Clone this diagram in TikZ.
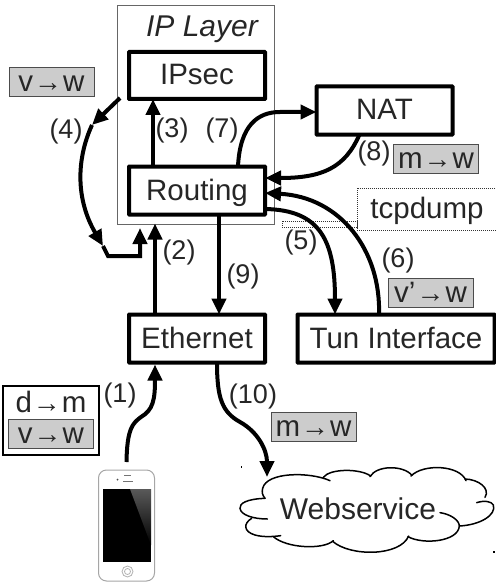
\documentclass[tikz,border=0pt]{standalone}
\usepackage{fontspec}
\setmainfont{Liberation Sans}
\usetikzlibrary{arrows.meta,calc}
\definecolor{ink}{gray}{0.15}
\definecolor{tag}{gray}{0.8}
\newcommand{\arrw}{\hspace{1pt}{\fontsize{28}{28}\selectfont →}\hspace{1pt}}
\tikzset{
  x=1pt,y=-1pt,
  every node/.style={inner sep=0pt,outer sep=0pt,text=ink},
  big/.style={font=\fontsize{29.5}{32}\selectfont,text height=23pt,text depth=4pt},
  box/.style={big,draw=black,line width=4pt,rounded corners=0.5pt},
  num/.style={font=\fontsize{27}{30}\selectfont},
  tagbox/.style={big,draw=black!70,line width=1pt,fill=tag,minimum width=85pt,minimum height=29pt},
  flow/.style={line width=4pt,draw=black,-{Triangle[length=16pt,width=14pt]}},
  cloudline/.style={line width=1.5pt,draw=black,line cap=round},
}
\begin{document}
\begin{tikzpicture}
\useasboundingbox (0,0) rectangle (495,583);
% IP layer
\node (iplayer) [draw=black!60,line width=1pt,minimum width=157pt,minimum height=218pt] at (195.5,115) {};
\node (iptitle) [big,font=\fontsize{30}{32}\selectfont\itshape] at (202,27) {IP Layer};
% boxes
\node (ipsec) [box,minimum width=136pt,minimum height=47pt] at (197,75.5) {IPsec};
\node (routing) [box,minimum width=136pt,minimum height=48pt] at (197,190.5) {Routing};
\node (nat) [box,minimum width=136pt,minimum height=48pt] at (384.5,110.5) {NAT};
\node (tun) [box,minimum width=197pt,minimum height=48pt] at (396,338.5) {Tun Interface};
\node (eth) [box,minimum width=136pt,minimum height=48pt] at (197,338.5) {Ethernet};
% tcpdump
\node (tcpdump) [big,draw=black!80,densely dotted,line width=1pt,minimum width=142pt,minimum height=42pt,anchor=west] at (357,209) {\hspace{-2pt}tcpdump};
\node (tcpstub) [draw=black!80,densely dotted,line width=1pt,minimum width=75pt,minimum height=6pt] at (319.5,224) {};
% tags
\node (tagA) [tagbox] at (51.5,82.5) {v\arrw w};
\node (tagB) [tagbox] at (436,158.5) {m\arrw w};
\node (tagC) [tagbox] at (430.5,292.5) {v'\arrw w};
\node (tagD) [tagbox] at (313.5,427) {m\arrw w};
\node (packet) [draw=black,line width=1.5pt,minimum width=96pt,minimum height=69pt] at (51,420.5) {};
\node (packetA) [big] at (51,403) {d\arrw m};
\node (packetB) [tagbox] at (51,434) {v\arrw w};
% phone
\node (phone) [draw=black!35,line width=1pt,fill=white,rounded corners=8pt,minimum width=56pt,minimum height=111pt] at (126.5,525.5) {};
\fill[black] (102.5,489) rectangle (151,561.5);
\shade[top color=black!65,bottom color=black] (130,489) -- (151,489) -- (151,545) -- cycle;
\draw[black!55,line width=1pt] (123,481) -- (133,481) (124,475.5) -- (131,475.5);
\fill[black!70] (117.5,479.5) circle (1pt);
\draw[black!30,line width=0.8pt] (127.5,571.5) circle (5.5pt) (127.5,571.5) circle (3pt);
% cloud
\node (web) [big,font=\fontsize{30}{32}\selectfont] at (358,510) {Webservice};
\begin{scope}[shift={(210pt,-350pt)},x=0.33333pt,y=-0.33333pt]
\draw[cloudline] (360,392) .. controls (300,365) and (170,365) .. (158,415) .. controls (155,427) and (157,435) .. (165,445);
\draw[cloudline] (165,445) .. controls (110,447) and (88,460) .. (90,475) .. controls (92,495) and (130,507) .. (172,507);
\draw[cloudline] (125,505) .. controls (100,520) and (100,545) .. (135,555) .. controls (160,562) and (190,560) .. (212,557);
\draw[cloudline] (190,560) .. controls (230,595) and (340,600) .. (370,572);
\draw[cloudline] (368,574) .. controls (420,620) and (570,620) .. (596,558);
\draw[cloudline] (594,560) .. controls (640,585) and (745,575) .. (748,528) .. controls (748,510) and (720,492) .. (690,488);
\draw[cloudline] (748,528) .. controls (810,525) and (860,495) .. (850,465) .. controls (845,455) and (825,450) .. (800,458);
\draw[cloudline] (825,442) .. controls (842,415) and (805,388) .. (765,387);
\draw[cloudline] (768,392) .. controls (750,345) and (640,340) .. (603,378);
\draw[cloudline] (606,376) .. controls (580,345) and (500,345) .. (480,380);
\draw[cloudline] (482,378) .. controls (450,355) and (360,355) .. (340,382);
\fill[black] (92,349) rectangle (97,355);
\fill[black] (849,604) rectangle (855,610);
\end{scope}
% free ends
\coordinate (fourstart) at (120,98);
\coordinate (fourmid) at (92,125);
\coordinate (fourlow) at (103,246);
\coordinate (fourend) at (140,228);
% connectors
\draw[flow] ([xshift=-44pt]routing.north) -- ([xshift=-44pt]ipsec.south);
\draw[flow] ([xshift=-42pt]eth.north) -- ([xshift=-42pt,yshift=-9pt]routing.south);
\draw[flow] ([xshift=22pt]routing.south) -- ([xshift=22pt]eth.north);
\draw[flow] (fourstart) -- (fourmid);
\draw[flow] (fourmid) .. controls (76,160) and (76,200) .. (fourlow);
\draw[flow] (fourlow) -- (108,256) -- (140,256) -- (fourend);
\draw[flow] ([xshift=41pt]routing.north) .. controls (240,125) and (258,112) .. (280,112) -- ([yshift=-1.5pt]nat.west);
\draw[flow] ([xshift=-25pt]nat.south) .. controls (345,168) and (322,178) .. ([yshift=12.5pt]routing.east);
\draw[flow] ([xshift=-17pt]tun.north) .. controls (381,250) and (340,197) .. ([yshift=-2.5pt]routing.east);
\draw[flow] ([yshift=-18.5pt]routing.east) .. controls (320,210) and (335,240) .. ([xshift=-61pt]tun.north);
\draw[flow] ([yshift=8pt]phone.north) .. controls (127,428) and (133,423) .. (141,417) .. controls (153,410) and (155,400) .. ([xshift=-42pt,yshift=-2pt]eth.south);
\draw[flow] ([xshift=20pt]eth.south) .. controls (217,398) and (222,412) .. (240,422) .. controls (258,432) and (267,450) .. ([xshift=-91pt,yshift=33pt]web.center);
% numbers
\node (n1) [num] at (120,396) {(1)};
\node (n2) [num] at (179,253) {(2)};
\node (n3) [num] at (172,131) {(3)};
\node (n4) [num] at (66,132) {(4)};
\node (n5) [num] at (301,243) {(5)};
\node (n6) [num] at (398,261) {(6)};
\node (n7) [num] at (222,131) {(7)};
\node (n8) [num] at (374,154) {(8)};
\node (n9) [num] at (243,277) {(9)};
\node (n10) [num] at (253,397) {(10)};
\end{tikzpicture}
\end{document}
